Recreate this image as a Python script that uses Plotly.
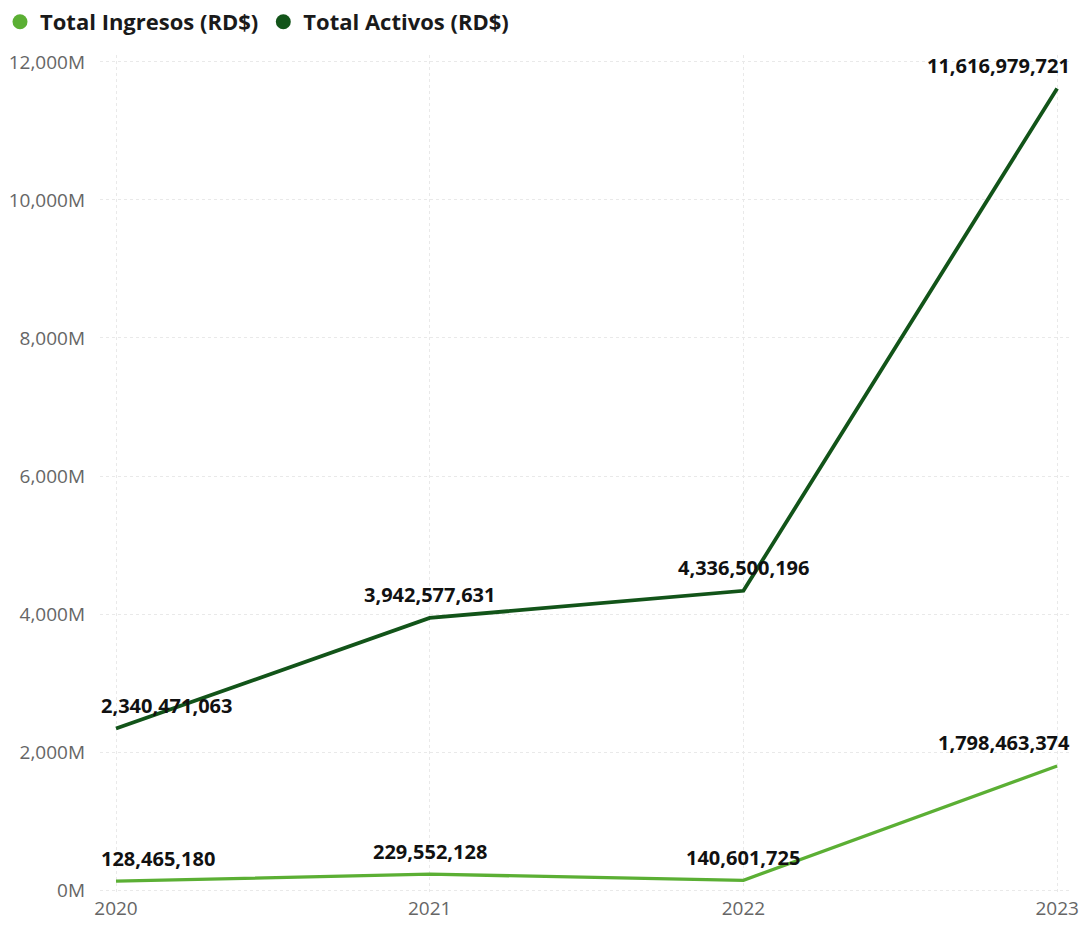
import plotly.graph_objects as go

# Yearly totals in RD$
years = [2020, 2021, 2022, 2023]
ingresos = [128465180, 229552128, 140601725, 1798463374]
activos = [2340471063, 3942577631, 4336500196, 11616979721]
y_ticks_m = [0, 2000, 4000, 6000, 8000, 10000, 12000]

series_names = ["Total Ingresos (RD$)", "Total Activos (RD$)"]
light_green = "#5BAF34"
dark_green = "#125419"

fig = go.Figure()
# Lines (legend entries are drawn as round markers below)
fig.add_trace(go.Scatter(x=years, y=ingresos, name=series_names[0], mode="lines",
                         line=dict(color=light_green, width=3.3), showlegend=False,
                         legendgroup="ing"))
fig.add_trace(go.Scatter(x=years, y=activos, name=series_names[1], mode="lines",
                         line=dict(color=dark_green, width=3.8), showlegend=False,
                         legendgroup="act"))
# Round legend markers
fig.add_trace(go.Scatter(x=[None], y=[None], name=series_names[0], mode="markers",
                         marker=dict(color=light_green, size=15), legendgroup="ing"))
fig.add_trace(go.Scatter(x=[None], y=[None], name=series_names[1], mode="markers",
                         marker=dict(color=dark_green, size=15), legendgroup="act"))

label_font = dict(family="Open Sans", size=20, color="#111111", weight="bold")


def anchor_for(i):
    if i == 0:
        return "left", -17
    if i == len(years) - 1:
        return "right", 15
    return "center", 0


for series in (ingresos, activos):
    for i, (x, v) in enumerate(zip(years, series)):
        xa, xs = anchor_for(i)
        fig.add_annotation(x=x, y=v, text=f"{v:,}", showarrow=False,
                           xanchor=xa, xshift=xs, yanchor="middle", yshift=23,
                           font=label_font)

fig.update_layout(
    width=1080, height=926,
    margin=dict(l=100, r=10, t=55, b=31, autoexpand=False),
    paper_bgcolor="white", plot_bgcolor="white",
    font=dict(family="Open Sans", color="#666666"),
    showlegend=True,
    legend=dict(orientation="h", xref="container", yref="container",
                x=-0.024, xanchor="left", y=1 - 22 / 926, yanchor="middle",
                font=dict(family="Open Sans", size=22, color="#1A1A1A", weight="bold"),
                itemwidth=30, tracegroupgap=0, bgcolor="rgba(0,0,0,0)"),
)
fig.update_xaxes(range=[2019.949, 2023.041], tickvals=years, ticktext=[str(y) for y in years],
                 showgrid=True, gridcolor="#E9E9E9", griddash="dot", gridwidth=1,
                 zeroline=False, showline=False, ticks="", automargin=False,
                 tickfont=dict(size=19, color="#666666"))
fig.update_yaxes(range=[-72e6, 12101e6], tickvals=[t * 1e6 for t in y_ticks_m],
                 ticktext=[f"{t:,}M" for t in y_ticks_m],
                 showgrid=True, gridcolor="#E9E9E9", griddash="dot", gridwidth=1,
                 zeroline=False, showline=False, ticks="", automargin=False,
                 ticklabelstandoff=14,
                 tickfont=dict(size=19, color="#666666"))

fig.write_html("out.html")
